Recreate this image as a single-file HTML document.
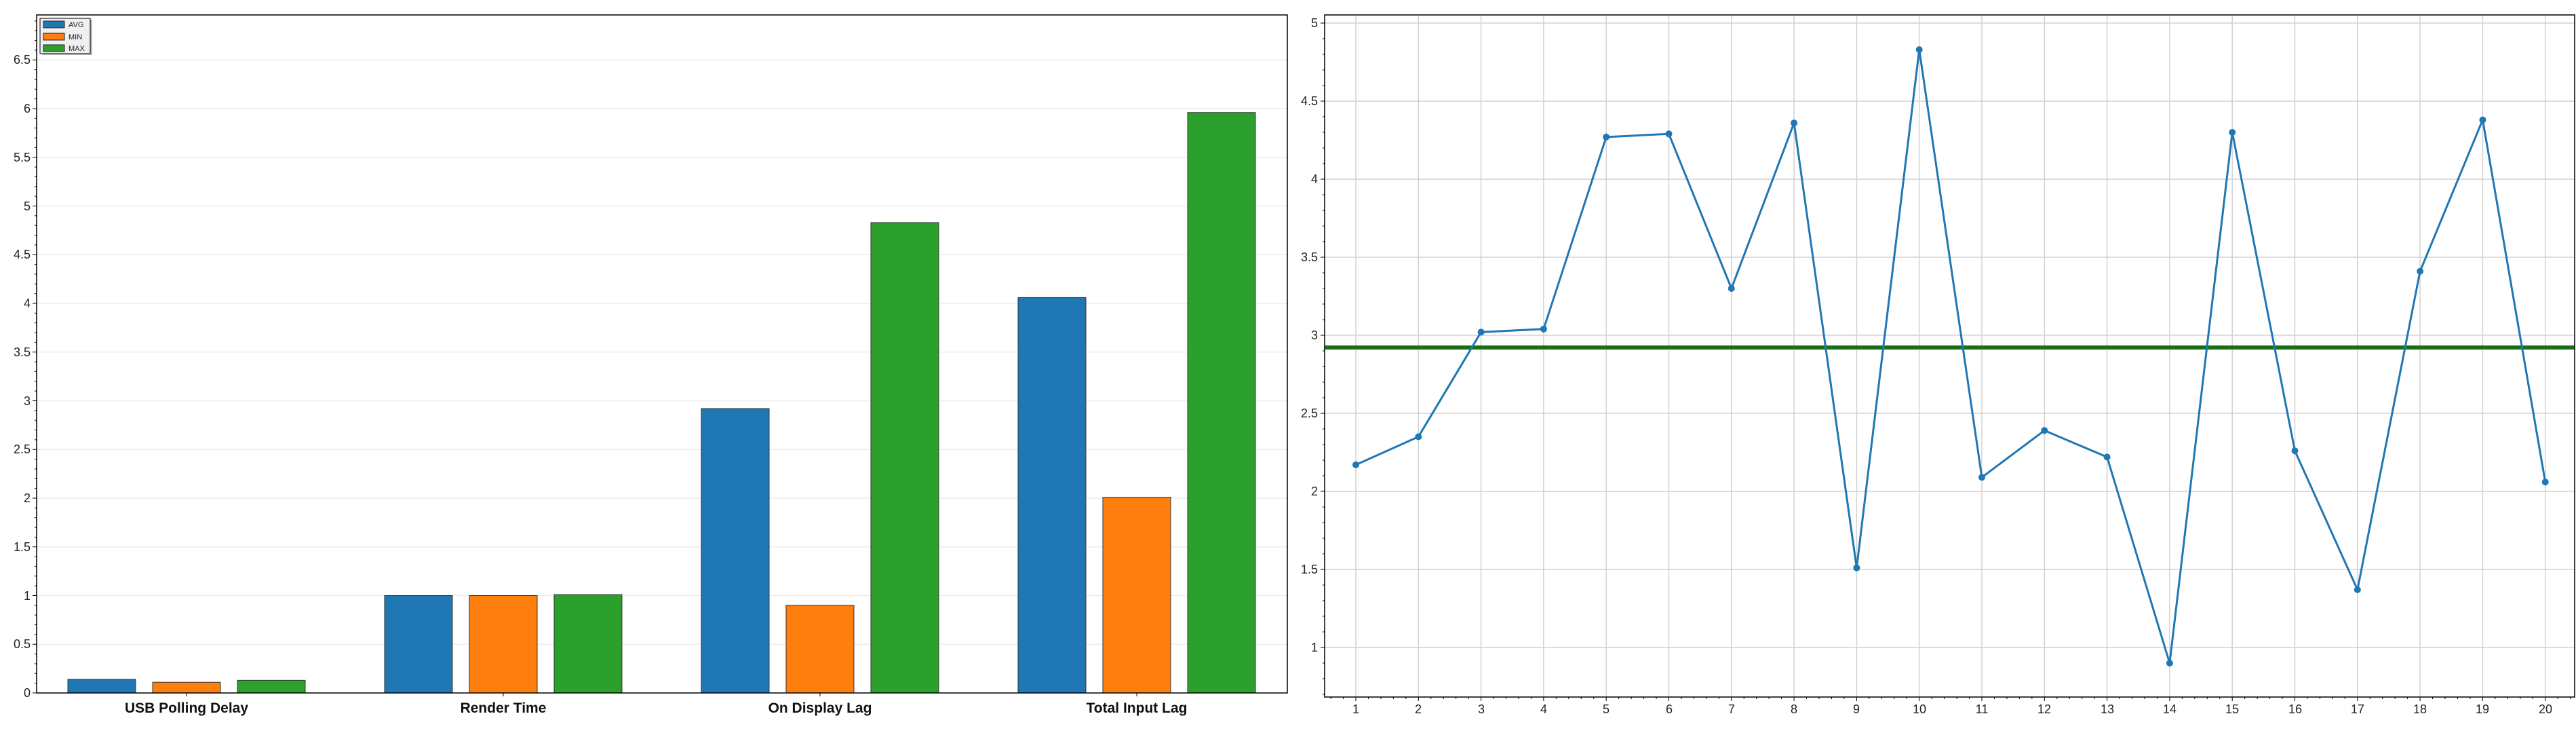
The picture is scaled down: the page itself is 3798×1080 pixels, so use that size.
<!DOCTYPE html>
<html><head><meta charset="utf-8"><style>
html,body{margin:0;padding:0;background:#fff;}
svg{display:block;font-family:"Liberation Sans","DejaVu Sans",sans-serif;}
</style></head><body>
<svg id="s" width="3798" height="1080" xmlns="http://www.w3.org/2000/svg">
<rect width="3798" height="1080" fill="#fff"/>
<g id="lg"></g>
<g id="rg"></g>
<!-- left y labels -->
<g font-size="18" fill="#222" text-anchor="end">
<text x="45" y="1027">0</text>
<text x="45" y="955">0.5</text>
<text x="45" y="884">1</text>
<text x="45" y="812">1.5</text>
<text x="45" y="740">2</text>
<text x="45" y="668">2.5</text>
<text x="45" y="597">3</text>
<text x="45" y="525">3.5</text>
<text x="45" y="453">4</text>
<text x="45" y="381">4.5</text>
<text x="45" y="310">5</text>
<text x="45" y="238">5.5</text>
<text x="45" y="166">6</text>
<text x="45" y="94">6.5</text>
</g>
<g font-size="21" font-weight="bold" fill="#111" text-anchor="middle">
<text x="275" y="1050">USB Polling Delay</text>
<text x="742" y="1050">Render Time</text>
<text x="1209" y="1050">On Display Lag</text>
<text x="1676" y="1050">Total Input Lag</text>
</g>
<!-- right y labels -->
<g font-size="18" fill="#222" text-anchor="end">
<text x="1943" y="960">1</text>
<text x="1943" y="845">1.5</text>
<text x="1943" y="730">2</text>
<text x="1943" y="615">2.5</text>
<text x="1943" y="500">3</text>
<text x="1943" y="385">3.5</text>
<text x="1943" y="270">4</text>
<text x="1943" y="155">4.5</text>
<text x="1943" y="40">5</text>
</g>
<g font-size="18" fill="#222" text-anchor="middle">
<text x="1999" y="1051">1</text><text x="2091" y="1051">2</text><text x="2184" y="1051">3</text><text x="2276" y="1051">4</text><text x="2368" y="1051">5</text><text x="2461" y="1051">6</text><text x="2553" y="1051">7</text><text x="2645" y="1051">8</text><text x="2737" y="1051">9</text><text x="2830" y="1051">10</text><text x="2922" y="1051">11</text><text x="3014" y="1051">12</text><text x="3107" y="1051">13</text><text x="3199" y="1051">14</text><text x="3291" y="1051">15</text><text x="3384" y="1051">16</text><text x="3476" y="1051">17</text><text x="3568" y="1051">18</text><text x="3660" y="1051">19</text><text x="3753" y="1051">20</text>
</g>
<!-- legend -->
<g>
<rect x="62" y="29" width="74" height="52" fill="#bbb"/>
<rect x="59" y="27" width="74" height="52" fill="#f0f0f0" stroke="#000" stroke-width="1"/>
<rect x="64" y="31" width="31" height="10" fill="#1f77b4" stroke="#222"/>
<rect x="64" y="49" width="31" height="10" fill="#ff7f0e" stroke="#222"/>
<rect x="64" y="66" width="31" height="10" fill="#2ca02c" stroke="#222"/>
<g font-size="11" fill="#222"><text x="101" y="40">AVG</text><text x="101" y="58">MIN</text><text x="101" y="75">MAX</text></g>
</g>
</svg>
<script>
const NS="http://www.w3.org/2000/svg";
function el(p,t,a){const e=document.createElementNS(NS,t);for(const k in a)e.setAttribute(k,a[k]);p.appendChild(e);return e;}
const lg=document.getElementById('lg'), rg=document.getElementById('rg');
// left chart
const L=54,R=1898,T=22,B=1021,U=143.5;
for(let v=0.5;v<=6.51;v+=0.5){const y=B-v*U;el(lg,'line',{x1:L,x2:R,y1:y,y2:y,stroke:'#ececec','stroke-width':1.5});}
for(let i=0;i<=69;i++){const y=B-i*0.1*U;if(y<T)break;const big=i%5==0;el(lg,'line',{x1:L-(big?6:3),x2:L,y1:y,y2:y,stroke:'#000','stroke-width':1});}
const cats=[275,742,1209,1676];
const data=[[0.14,0.11,0.13],[1.0,1.0,1.01],[2.92,0.9,4.83],[4.06,2.01,5.96]];
const cols=['#1f77b4','#ff7f0e','#2ca02c'];
cats.forEach((c,i)=>{data[i].forEach((v,j)=>{const x=c+(j-1)*125-50;el(lg,'rect',{x:x,y:B-v*U,width:100,height:v*U,fill:cols[j],stroke:'#333','stroke-width':1});});
el(lg,'line',{x1:c,x2:c,y1:B,y2:B+5,stroke:'#000'});});
el(lg,'rect',{x:L,y:T,width:R-L,height:B-T,fill:'none',stroke:'#000','stroke-width':1.5});
// right chart
const rL=1953,rR=3796,rT=22,rB=1027,ry=v=>34+(5-v)*230,rx=i=>1999+(i-1)*92.3;
for(let v=1;v<=5;v+=0.5){el(rg,'line',{x1:rL,x2:rR,y1:ry(v),y2:ry(v),stroke:'#d2d2d2','stroke-width':1.5});}
for(let i=1;i<=20;i++){el(rg,'line',{x1:rx(i),x2:rx(i),y1:rT,y2:rB,stroke:'#d2d2d2','stroke-width':1.5});}
for(let v=0.7;v<=5.05;v+=0.1){const y=ry(v);const big=Math.abs(v*2-Math.round(v*2))<1e-6;el(rg,'line',{x1:rL-(big?6:3),x2:rL,y1:y,y2:y,stroke:'#000'});}
for(let t=0.6;t<=20.45;t+=0.2){const x=rx(t);const big=Math.abs(t-Math.round(t))<1e-6;el(rg,'line',{x1:x,x2:x,y1:rB,y2:rB+(big?6:3),stroke:'#000'});}
el(rg,'line',{x1:rL,x2:rR,y1:512,y2:512,stroke:'#1a6e14','stroke-width':6});
const vals=[2.17,2.35,3.02,3.04,4.27,4.29,3.30,4.36,1.51,4.83,2.09,2.39,2.22,0.90,4.30,2.26,1.37,3.41,4.38,2.06];
el(rg,'polyline',{points:vals.map((v,i)=>rx(i+1)+','+ry(v)).join(' '),fill:'none',stroke:'#1f77b4','stroke-width':3,'stroke-linejoin':'round'});
vals.forEach((v,i)=>el(rg,'circle',{cx:rx(i+1),cy:ry(v),r:5,fill:'#1f77b4'}));
el(rg,'rect',{x:rL,y:rT,width:rR-rL,height:rB-rT,fill:'none',stroke:'#000','stroke-width':1.5});
</script>
</body></html>
